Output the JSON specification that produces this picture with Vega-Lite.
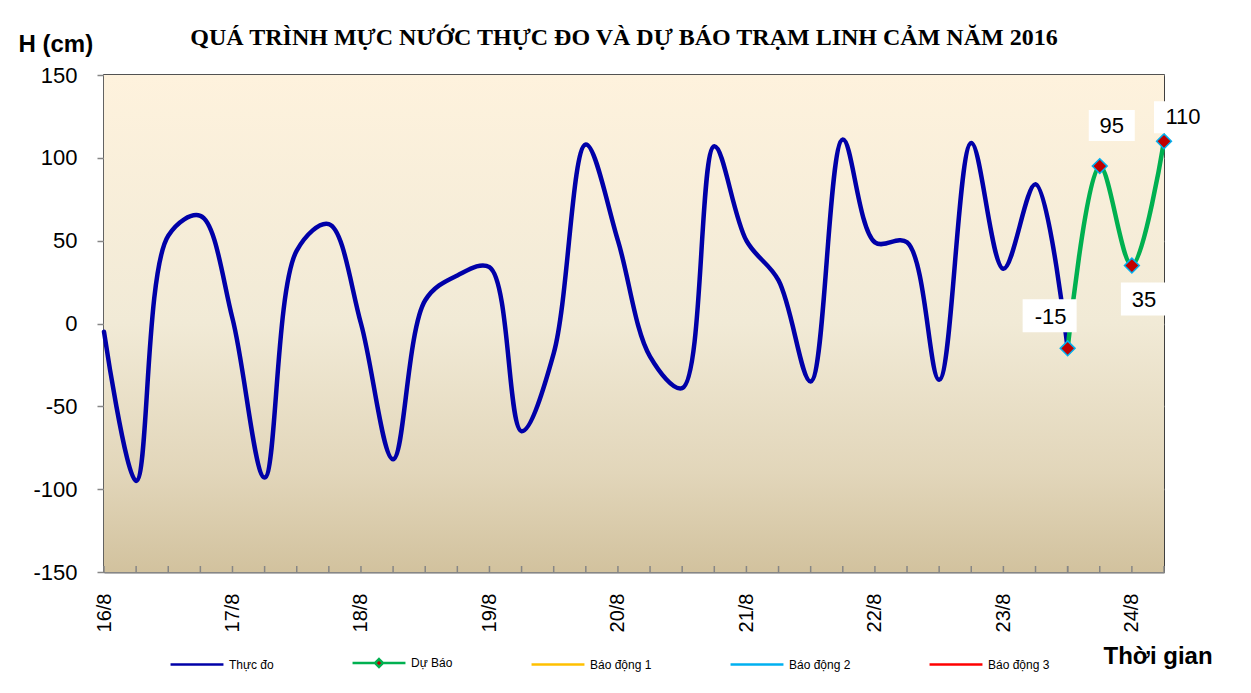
{
  "$schema": "https://vega.github.io/schema/vega-lite/v6.json",
  "width": 1060,
  "height": 497,
  "autosize": {"type": "none"},
  "padding": {"left": 104, "top": 75, "right": 87, "bottom": 121},
  "background": "white",
  "title": {
    "text": "QUÁ TRÌNH  MỰC NƯỚC THỰC ĐO VÀ DỰ BÁO TRẠM  LINH  CẢM NĂM 2016",
    "font": "Liberation Serif",
    "fontSize": 24,
    "fontWeight": "bold",
    "color": "black",
    "anchor": "middle",
    "dx": -10,
    "dy": 32,
    "offset": 14
  },
  "config": {
    "locale": {
      "number": {"decimal": ".", "thousands": ",", "grouping": [3], "currency": ["$", ""], "minus": "-"}
    },
    "view": {"fill": "#F1EAD6", "stroke": "black", "strokeWidth": 1.5},
    "axis": {
      "labelFont": "Liberation Sans",
      "labelColor": "black",
      "titleColor": "black",
      "domainColor": "#868686",
      "domainWidth": 2,
      "tickColor": "#868686",
      "tickWidth": 1.5
    }
  },
  "datasets": {
    "levels": [
      {"t": "2016-08-16T00:00", "v": -5, "series": "Thực đo"},
      {"t": "2016-08-16T06:00", "v": -95, "series": "Thực đo"},
      {"t": "2016-08-16T12:00", "v": 53, "series": "Thực đo"},
      {"t": "2016-08-16T18:00", "v": 65, "series": "Thực đo"},
      {"t": "2016-08-17T00:00", "v": 3, "series": "Thực đo"},
      {"t": "2016-08-17T06:00", "v": -93, "series": "Thực đo"},
      {"t": "2016-08-17T12:00", "v": 44, "series": "Thực đo"},
      {"t": "2016-08-17T18:00", "v": 60, "series": "Thực đo"},
      {"t": "2016-08-18T00:00", "v": 0, "series": "Thực đo"},
      {"t": "2016-08-18T06:00", "v": -82, "series": "Thực đo"},
      {"t": "2016-08-18T12:00", "v": 14, "series": "Thực đo"},
      {"t": "2016-08-18T18:00", "v": 29, "series": "Thực đo"},
      {"t": "2016-08-19T00:00", "v": 34, "series": "Thực đo"},
      {"t": "2016-08-19T06:00", "v": -65, "series": "Thực đo"},
      {"t": "2016-08-19T12:00", "v": -18, "series": "Thực đo"},
      {"t": "2016-08-19T18:00", "v": 108, "series": "Thực đo"},
      {"t": "2016-08-20T00:00", "v": 50, "series": "Thực đo"},
      {"t": "2016-08-20T06:00", "v": -20, "series": "Thực đo"},
      {"t": "2016-08-20T12:00", "v": -39, "series": "Thực đo"},
      {"t": "2016-08-20T18:00", "v": 107, "series": "Thực đo"},
      {"t": "2016-08-21T00:00", "v": 50, "series": "Thực đo"},
      {"t": "2016-08-21T06:00", "v": 26, "series": "Thực đo"},
      {"t": "2016-08-21T12:00", "v": -35, "series": "Thực đo"},
      {"t": "2016-08-21T18:00", "v": 111, "series": "Thực đo"},
      {"t": "2016-08-22T00:00", "v": 49, "series": "Thực đo"},
      {"t": "2016-08-22T06:00", "v": 49, "series": "Thực đo"},
      {"t": "2016-08-22T12:00", "v": -34, "series": "Thực đo"},
      {"t": "2016-08-22T18:00", "v": 109, "series": "Thực đo"},
      {"t": "2016-08-23T00:00", "v": 33, "series": "Thực đo"},
      {"t": "2016-08-23T06:00", "v": 84, "series": "Thực đo"},
      {"t": "2016-08-23T12:00", "v": -15, "series": "Thực đo"},
      {"t": "2016-08-23T12:00", "v": -15, "series": "Dự Báo"},
      {"t": "2016-08-23T18:00", "v": 95, "series": "Dự Báo"},
      {"t": "2016-08-24T00:00", "v": 35, "series": "Dự Báo"},
      {"t": "2016-08-24T06:00", "v": 110, "series": "Dự Báo"}
    ],
    "frame": [
      {"start": "2016-08-16T00:00", "end": "2016-08-24T06:00", "top": 150, "bottom": -150}
    ]
  },
  "layer": [
    {
      "data": {"name": "frame"},
      "mark": {
        "type": "rect",
        "color": {
          "gradient": "linear",
          "x1": 0, "y1": 0, "x2": 0, "y2": 1,
          "stops": [
            {"offset": 0, "color": "#FEF2DD"},
            {"offset": 0.5, "color": "#F1EAD6"},
            {"offset": 0.8, "color": "#E2D6BA"},
            {"offset": 1, "color": "#D2C29E"}
          ]
        }
      },
      "encoding": {
        "x": {"field": "start", "type": "temporal"},
        "x2": {"field": "end"},
        "y": {"field": "top", "type": "quantitative"},
        "y2": {"field": "bottom"}
      }
    },
    {
      "data": {"name": "levels"},
      "mark": {"type": "rect", "color": "#868686", "xOffset": -0.75, "x2Offset": 0.75, "y2Offset": -6},
      "encoding": {
        "x": {"field": "t", "type": "temporal"},
        "x2": {"field": "t"},
        "y": {"datum": -150, "type": "quantitative"},
        "y2": {"datum": -150}
      }
    },
    {
      "data": {"name": "levels"},
      "mark": {"type": "line", "interpolate": "catmull-rom", "strokeWidth": 4.5, "strokeCap": "round", "strokeJoin": "round"},
      "encoding": {
        "x": {
          "field": "t",
          "type": "temporal",
          "scale": {
            "domain": [
              {"year": 2016, "month": 8, "date": 16, "hours": 0},
              {"year": 2016, "month": 8, "date": 24, "hours": 6}
            ]
          },
          "axis": {
            "title": "Thời gian",
            "titleFont": "Liberation Sans",
            "titleFontSize": 24,
            "titleFontWeight": "bold",
            "titleX": 999,
            "titleY": 91,
            "titleAlign": "left",
            "titleBaseline": "alphabetic",
            "values": [
              {"year": 2016, "month": 8, "date": 16},
              {"year": 2016, "month": 8, "date": 17},
              {"year": 2016, "month": 8, "date": 18},
              {"year": 2016, "month": 8, "date": 19},
              {"year": 2016, "month": 8, "date": 20},
              {"year": 2016, "month": 8, "date": 21},
              {"year": 2016, "month": 8, "date": 22},
              {"year": 2016, "month": 8, "date": 23},
              {"year": 2016, "month": 8, "date": 24}
            ],
            "format": "%-d/%-m",
            "labelOverlap": false,
            "labelFlush": false,
            "labelAngle": -90,
            "labelAlign": "right",
            "labelBaseline": "middle",
            "labelFontSize": 20,
            "ticks": false,
            "labelPadding": 21,
            "grid": false
          }
        },
        "y": {
          "field": "v",
          "type": "quantitative",
          "scale": {"domain": [-150, 150], "nice": false, "zero": false},
          "axis": {
            "values": [-150, -100, -50, 0, 50, 100, 150],
            "title": "H (cm)",
            "titleAngle": 0,
            "titleX": -86,
            "titleY": -24,
            "titleAlign": "left",
            "titleBaseline": "alphabetic",
            "titleFont": "Liberation Sans",
            "titleFontSize": 24,
            "titleFontWeight": "bold",
            "labelFontSize": 22,
            "tickSize": 7,
            "labelPadding": 20,
            "grid": true,
            "gridColor": "#8C8C8C",
            "gridWidth": 1.5
          }
        },
        "color": {
          "field": "series",
          "type": "nominal",
          "scale": {
            "domain": ["Thực đo", "Dự Báo", "Báo động 1", "Báo động 2", "Báo động 3"],
            "range": ["#0000A8", "#00B050", "#FFC000", "#00B0F0", "#FF0000"]
          },
          "legend": {
            "title": null,
            "orient": "none",
            "legendX": 65,
            "legendY": 560,
            "direction": "horizontal",
            "columns": 5,
            "columnPadding": 73,
            "symbolType": "stroke",
            "symbolSize": 2800,
            "symbolStrokeWidth": 2.5,
            "labelFont": "Liberation Sans",
            "labelFontSize": 12,
            "labelColor": "black",
            "labelOffset": 4,
            "encode": {
              "symbols": {
                "update": {
                  "shape": {"signal": "datum.value === 'Dự Báo' ? 'M-1,0H-0.15M0.15,0H1M0,-0.15L0.15,0L0,0.15L-0.15,0Z' : 'stroke'"},
                  "fill": {"signal": "datum.value === 'Dự Báo' ? '#C00000' : 'transparent'"}
                }
              }
            }
          }
        }
      }
    },
    {
      "data": {"name": "levels"},
      "transform": [{"filter": "datum.series == 'Dự Báo'"}],
      "mark": {"type": "point", "shape": "diamond", "filled": true, "size": 220, "fill": "#C00000", "stroke": "#00B0F0", "strokeWidth": 1.5, "opacity": 1},
      "encoding": {
        "x": {"field": "t", "type": "temporal"},
        "y": {"field": "v", "type": "quantitative"}
      }
    },
    {
      "data": {"name": "levels"},
      "transform": [{"filter": "datum.series == 'Dự Báo' && datum.v == -15"}],
      "mark": {"type": "rect", "fill": "white", "xOffset": -45, "x2Offset": 9, "yOffset": -49, "y2Offset": -16},
      "encoding": {
        "x": {"field": "t", "type": "temporal"},
        "x2": {"field": "t"},
        "y": {"field": "v", "type": "quantitative"},
        "y2": {"field": "v"}
      }
    },
    {
      "data": {"name": "levels"},
      "transform": [{"filter": "datum.series == 'Dự Báo' && datum.v == 95"}],
      "mark": {"type": "rect", "fill": "white", "xOffset": -11, "x2Offset": 35, "yOffset": -56, "y2Offset": -25},
      "encoding": {
        "x": {"field": "t", "type": "temporal"},
        "x2": {"field": "t"},
        "y": {"field": "v", "type": "quantitative"},
        "y2": {"field": "v"}
      }
    },
    {
      "data": {"name": "levels"},
      "transform": [{"filter": "datum.series == 'Dự Báo' && datum.v == 35"}],
      "mark": {"type": "rect", "fill": "white", "xOffset": -11, "x2Offset": 35, "yOffset": 17, "y2Offset": 50},
      "encoding": {
        "x": {"field": "t", "type": "temporal"},
        "x2": {"field": "t"},
        "y": {"field": "v", "type": "quantitative"},
        "y2": {"field": "v"}
      }
    },
    {
      "data": {"name": "levels"},
      "transform": [{"filter": "datum.series == 'Dự Báo' && datum.v == 110"}],
      "mark": {"type": "rect", "fill": "white", "xOffset": -10, "x2Offset": 47, "yOffset": -40, "y2Offset": -8},
      "encoding": {
        "x": {"field": "t", "type": "temporal"},
        "x2": {"field": "t"},
        "y": {"field": "v", "type": "quantitative"},
        "y2": {"field": "v"}
      }
    },
    {
      "data": {"name": "levels"},
      "transform": [{"filter": "datum.series == 'Dự Báo'"}],
      "mark": {
        "type": "text", "font": "Liberation Sans", "fontSize": 22, "color": "black", "align": "center", "baseline": "middle",
        "dx": {"expr": "datum.v == -15 ? -17 : datum.v == 110 ? 19 : 12"},
        "dy": {"expr": "datum.v == -15 ? -31 : datum.v == 95 ? -40 : datum.v == 35 ? 34 : -24"}
      },
      "encoding": {
        "x": {"field": "t", "type": "temporal"},
        "y": {"field": "v", "type": "quantitative"},
        "text": {"field": "v", "type": "nominal"}
      }
    }
  ]
}
